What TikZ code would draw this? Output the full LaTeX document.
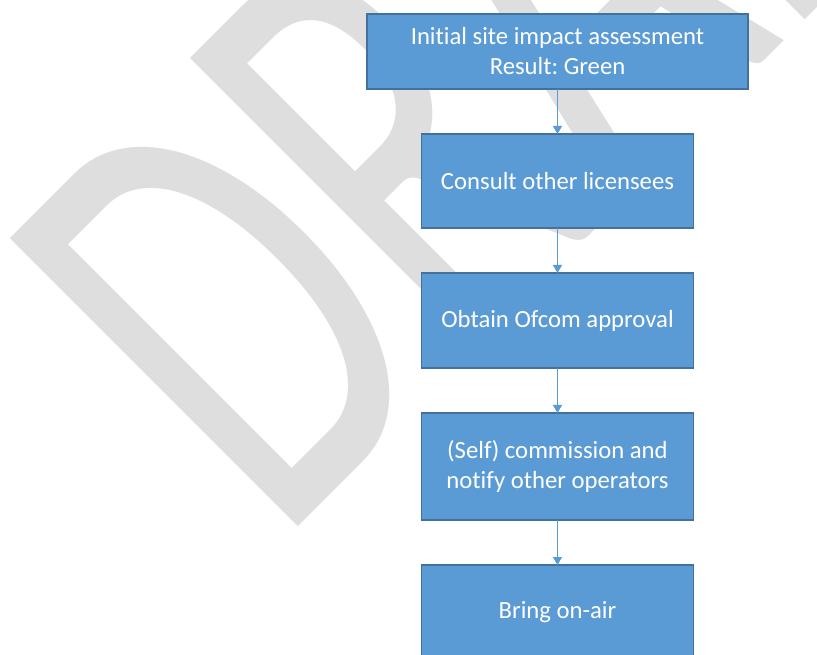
\documentclass[tikz,border=0pt]{standalone}
\usepackage{fontspec}
\setmainfont{Carlito}[Ligatures=NoCommon]
\usepackage{tikz}
\usepackage{xcolor}
\usetikzlibrary{shapes, arrows.meta, calc, positioning, fit}
\frenchspacing

\definecolor{boxblue}{HTML}{5B9BD5}
\definecolor{boxedge}{HTML}{41719C}
\definecolor{wmgray}{HTML}{DEDEDE}

\begin{document}
\begin{tikzpicture}[x=1pt, y=1pt]
    \clip (0,0) rectangle (817,654);
    % watermark behind the chart
    \node[anchor=base west, inner sep=0pt, text=wmgray, rotate=45, xscale=0.65,
          font=\fontsize{635}{635}\selectfont] (draft) at (278,107) {DRAFT};
    \begin{scope}[every node/.style = {draw=boxedge, line width=1.3pt, fill=boxblue,
                      text=white, align=center, outer sep=0pt, inner sep=2pt,
                      minimum width=272pt, minimum height=95pt,
                      font=\fontsize{24.7}{30}\selectfont},
                  node distance=45pt]
        \node[minimum width=381pt, minimum height=75pt] (assess) at (557.5,602.5)
            {Initial site impact assessment\\Result: Green};
        \node[below=of assess, minimum height=94pt] (consult) {Consult other licensees};
        \node[below=of consult] (ofcom) {Obtain Ofcom approval};
        \node[below=of ofcom, minimum height=107pt] (commission)
            {(Self) commission and\\notify other operators};
        \node[below=of commission] (onair) {Bring on-air};
    \end{scope}
    \begin{scope}[every path/.style = {draw=boxblue, line width=1pt,
                      -{Triangle[width=9pt, length=8pt]}}]
        \draw (assess) -- (consult);
        \draw (consult) -- (ofcom);
        \draw (ofcom) -- (commission);
        \draw (commission) -- (onair);
    \end{scope}
\end{tikzpicture}
\end{document}
